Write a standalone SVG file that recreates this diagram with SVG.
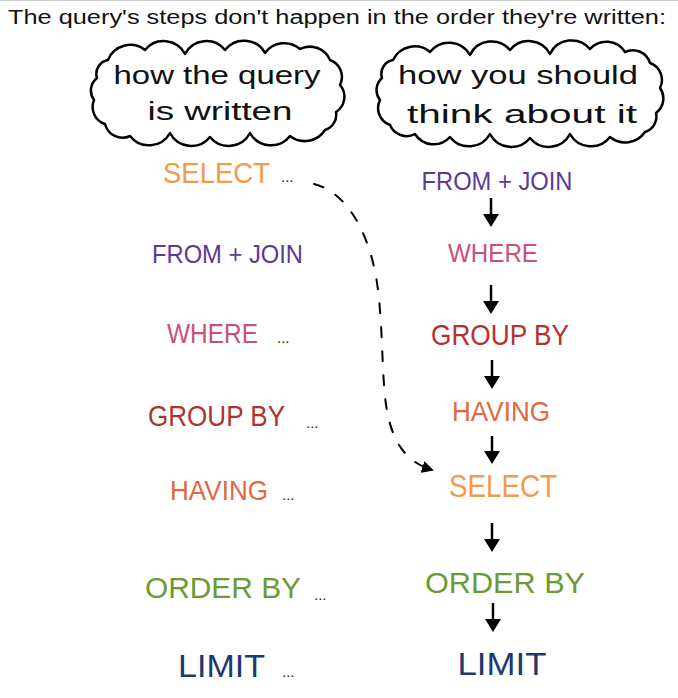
<svg xmlns="http://www.w3.org/2000/svg" width="678" height="698" viewBox="0 0 678 698">
<defs>
<style>
text{font-family:"Liberation Sans","Open Sans",sans-serif;}
.title{font-size:20px;fill:#111;}
.cloud{fill:#fff;stroke:#000;stroke-width:2.5;stroke-linejoin:round;}
.ct{font-size:25px;fill:#111;text-anchor:middle;}
.kw{font-size:28px;}
.dots{font-size:15px;fill:#222;}
.mid{text-anchor:middle;}
.arrow{stroke:#000;stroke-width:2.5;fill:none;}
.head{fill:#000;}
.dash{stroke:#000;stroke-width:2;fill:none;stroke-dasharray:10 14;stroke-linecap:round;}
.sel{fill:#f39a4c;}
.frm{fill:#5b3a94;}
.whr{fill:#c9507b;}
.grp{fill:#b3322e;}
.hav{fill:#e2683f;}
.ord{fill:#6a9b34;}
.lim{fill:#1d3970;}
</style>
<marker id="dh" viewBox="0 0 12 12" refX="10" refY="6" markerWidth="12" markerHeight="12" markerUnits="userSpaceOnUse" orient="auto">
<path d="M0,0 L12,6 L0,12 Z" fill="#000"/>
</marker>
</defs>
<rect x="0" y="0" width="678" height="698" fill="#fff"/>
<line x1="0" y1="0.5" x2="678" y2="0.5" stroke="#ccc" stroke-width="1"/>
<text class="title" x="8" y="24" textLength="658" lengthAdjust="spacingAndGlyphs">The query's steps don't happen in the order they're written:</text>

<g id="cloud-written">
<path class="cloud" d="M108,60 A24,24 0 0 1 145,50 A24,24 0 0 1 185,54 A24,24 0 0 1 225,50 A24,24 0 0 1 265,53 A24,24 0 0 1 300,49 A22,22 0 0 1 330,60 A18,18 0 0 1 340,85 A18,18 0 0 1 336,112 A16,16 0 0 1 325,130 A24,24 0 0 1 290,136 A24,24 0 0 1 250,133 A24,24 0 0 1 210,137 A24,24 0 0 1 170,133 A24,24 0 0 1 130,136 A18,18 0 0 1 105,124 A18,18 0 0 1 94,100 A16,16 0 0 1 97,78 A14,14 0 0 1 108,60 Z"/>
<text class="ct" x="217" y="84" textLength="207" lengthAdjust="spacingAndGlyphs">how the query</text>
<text class="ct" x="220" y="120" textLength="145" lengthAdjust="spacingAndGlyphs">is written</text>
</g>

<g id="cloud-think">
<path class="cloud" d="M393,60 A24,24 0 0 1 430,52 A24,24 0 0 1 470,55 A24,24 0 0 1 510,50 A24,24 0 0 1 550,54 A24,24 0 0 1 590,49 A22,22 0 0 1 625,52 A18,18 0 0 1 650,63 A18,18 0 0 1 660,88 A18,18 0 0 1 656,113 A16,16 0 0 1 645,132 A24,24 0 0 1 610,137 A24,24 0 0 1 570,134 A24,24 0 0 1 530,138 A24,24 0 0 1 490,134 A24,24 0 0 1 450,137 A22,22 0 0 1 415,134 A18,18 0 0 1 390,125 A18,18 0 0 1 380,100 A16,16 0 0 1 382,78 A14,14 0 0 1 393,60 Z"/>
<text class="ct" x="518" y="84" textLength="240" lengthAdjust="spacingAndGlyphs">how you should</text>
<text class="ct" x="522" y="123" textLength="230" lengthAdjust="spacingAndGlyphs">think about it</text>
</g>

<g id="written-select"><text class="kw sel" x="163" y="183" style="font-size:29px" textLength="107" lengthAdjust="spacingAndGlyphs">SELECT</text><text class="dots" x="281" y="182">...</text></g>
<g id="written-from"><text class="kw frm" x="152" y="263" style="font-size:25px" textLength="151" lengthAdjust="spacingAndGlyphs">FROM + JOIN</text></g>
<g id="written-where"><text class="kw whr" x="167" y="343" textLength="91" lengthAdjust="spacingAndGlyphs">WHERE</text><text class="dots" x="277" y="343">...</text></g>
<g id="written-group"><text class="kw grp" x="148" y="426" style="font-size:29px" textLength="137" lengthAdjust="spacingAndGlyphs">GROUP BY</text><text class="dots" x="306" y="428">...</text></g>
<g id="written-having"><text class="kw hav" x="170" y="500" textLength="98" lengthAdjust="spacingAndGlyphs">HAVING</text><text class="dots" x="282" y="500">...</text></g>
<g id="written-order"><text class="kw ord" x="145" y="598" style="font-size:29px" textLength="156" lengthAdjust="spacingAndGlyphs">ORDER BY</text><text class="dots" x="314" y="600">...</text></g>
<g id="written-limit"><text class="kw lim" x="178" y="677" style="font-size:32px" textLength="87" lengthAdjust="spacingAndGlyphs">LIMIT</text><text class="dots" x="282" y="677">...</text></g>

<g id="think-from"><text class="kw frm mid" x="497" y="190" style="font-size:25px" textLength="151" lengthAdjust="spacingAndGlyphs">FROM + JOIN</text></g>
<g id="think-where"><text class="kw whr mid" x="493" y="262" style="font-size:26px" textLength="90" lengthAdjust="spacingAndGlyphs">WHERE</text></g>
<g id="think-group"><text class="kw grp mid" x="500" y="345" style="font-size:30px" textLength="138" lengthAdjust="spacingAndGlyphs">GROUP BY</text></g>
<g id="think-having"><text class="kw hav mid" x="501" y="421" textLength="98" lengthAdjust="spacingAndGlyphs">HAVING</text></g>
<g id="think-select"><text class="kw sel mid" x="503" y="497" style="font-size:31px" textLength="108" lengthAdjust="spacingAndGlyphs">SELECT</text></g>
<g id="think-order"><text class="kw ord mid" x="505" y="593" style="font-size:29px" textLength="160" lengthAdjust="spacingAndGlyphs">ORDER BY</text></g>
<g id="think-limit"><text class="kw lim mid" x="502" y="675" style="font-size:32px" textLength="89" lengthAdjust="spacingAndGlyphs">LIMIT</text></g>

<g id="connectors">
<line class="arrow" x1="491" y1="198" x2="491" y2="216"/><path class="head" d="M483,214 L499,214 L491,227 Z"/>
<line class="arrow" x1="491" y1="285" x2="491" y2="303"/><path class="head" d="M483,301 L499,301 L491,314 Z"/>
<line class="arrow" x1="492" y1="360" x2="492" y2="378"/><path class="head" d="M484,376 L500,376 L492,389 Z"/>
<line class="arrow" x1="492" y1="436" x2="492" y2="453"/><path class="head" d="M484,451 L500,451 L492,464 Z"/>
<line class="arrow" x1="492" y1="523" x2="492" y2="541"/><path class="head" d="M484,539 L500,539 L492,552 Z"/>
<line class="arrow" x1="493" y1="603" x2="493" y2="621"/><path class="head" d="M485,619 L501,619 L493,632 Z"/>
<path class="dash" d="M314,184 C350,193 372,240 378,290 C384,340 381,390 389,420 C396,448 410,463 432,470" marker-end="url(#dh)"/>
</g>
</svg>
